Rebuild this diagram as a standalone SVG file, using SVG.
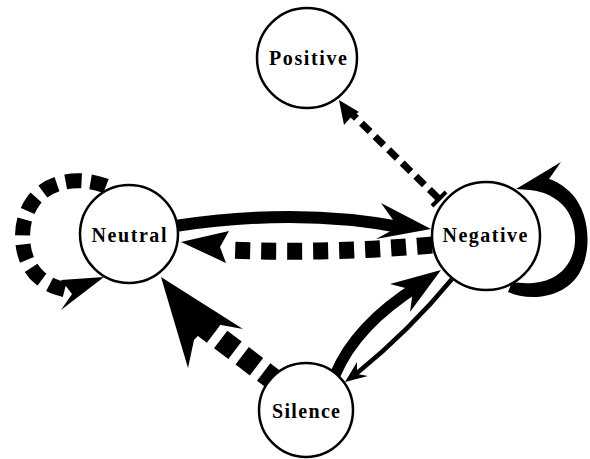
<svg xmlns="http://www.w3.org/2000/svg" width="590" height="459" viewBox="0 0 590 459">
<style>
.node circle{fill:#fff;stroke:#000;stroke-width:2.5}
.node text{font-family:"Liberation Serif","DejaVu Serif",serif;font-size:20px;font-weight:bold;text-anchor:middle;fill:#000}
.e{fill:none;stroke:#000;stroke-linecap:butt}
.h{fill:#000;stroke:none}
</style>
<rect width="590" height="459" fill="#fff"/>
<g id="connectors">
  <!-- Neutral -> Negative (thick solid) -->
  <path class="e" d="M175,226 Q300,207 405,228" stroke-width="12"/>
  <path class="h" d="M431,229 L381,203 L398,227 L376,239 Z"/>
  <!-- Negative -> Neutral (thick dashed) -->
  <path class="e" d="M432,245 Q330,254 229,250" stroke-width="17" stroke-dasharray="15 11"/>
  <path class="h" d="M181,242 L229,231 L220,247 L226,263 Z"/>
  <!-- Negative -> Positive (thin dashed) -->
  <path class="e" d="M438,198 L352,114" stroke-width="7" stroke-dasharray="12 7"/>
  <path class="e" d="M432,206 L446,192" stroke-width="4"/>
  <path class="h" d="M339,100 L359,112 L352,116 L344,125 Z"/>
  <!-- Negative self-loop -->
  <path class="h" d="M508,292 C530,302 566,298 580,272 C592,250 590,214 572,194 C563,185 556,181 549,179 L561,162 L516,189 L530,190 C548,192 565,201 572,220 C580,245 572,268 552,278 C540,284 525,284 512,282 Z"/>
  <!-- Neutral self-loop (dashed) -->
  <path class="e" d="M106,186 C80,176 50,180 34,200 C16,224 20,262 40,278 C50,286 58,288 66,290" stroke-width="15" stroke-dasharray="16 9"/>
  <path class="h" d="M104,277 L61,280 L72,294 L61,310 Z"/>
  <!-- Silence -> Neutral (thick dashed) -->
  <path class="e" d="M278,383 L203,326" stroke-width="22" stroke-dasharray="18 9"/>
  <path class="h" d="M161,277 L243,329 L210,323 L194,340 L188,368 Z"/>
  <!-- Silence -> Negative (thick solid) -->
  <path class="e" d="M335,375 Q356,325 418,286" stroke-width="11"/>
  <path class="h" d="M441,270 L390,284 L413,290 L410,312 Z"/>
  <!-- Negative -> Silence (thin solid) -->
  <path class="e" d="M452,279 Q410,330 356,374" stroke-width="4.5"/>
  <path class="h" d="M345,382 L357,362 L357,374 L368,376 Z"/>
</g>
<g id="node-positive" class="node">
  <circle cx="307" cy="58" r="50"/>
  <text x="308" y="65" textLength="78" lengthAdjust="spacing">Positive</text>
</g>
<g id="node-neutral" class="node">
  <circle cx="129" cy="234" r="49"/>
  <text x="129" y="242" textLength="75" lengthAdjust="spacing">Neutral</text>
</g>
<g id="node-negative" class="node">
  <circle cx="486" cy="236" r="54"/>
  <text x="485" y="242" textLength="85" lengthAdjust="spacing">Negative</text>
</g>
<g id="node-silence" class="node">
  <circle cx="306" cy="410" r="47"/>
  <text x="306" y="418" textLength="68" lengthAdjust="spacing">Silence</text>
</g>
</svg>
